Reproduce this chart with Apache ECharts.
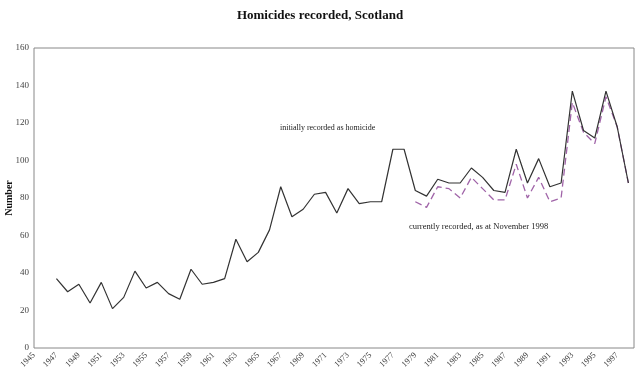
<!DOCTYPE html>
<html><head><meta charset="utf-8">
<script src="https://cdn.jsdelivr.net/npm/echarts@6/dist/echarts.min.js"></script>
<style>html,body{margin:0;padding:0;background:#fff}#c{width:640px;height:389px}</style>
</head><body><div id="c"></div>
<script>
const years = [1947,1948,1949,1950,1951,1952,1953,1954,1955,1956,1957,1958,1959,1960,1961,1962,1963,1964,1965,1966,1967,1968,1969,1970,1971,1972,1973,1974,1975,1976,1977,1978,1979,1980,1981,1982,1983,1984,1985,1986,1987,1988,1989,1990,1991,1992,1993,1994,1995,1996,1997,1998];
const initiallyRecorded = [37,30,34,24,35,21,27,41,32,35,29,26,42,34,35,37,58,46,51,63,86,70,74,82,83,72,85,77,78,78,106,106,84,81,90,88,88,96,91,84,83,106,88,101,86,88,137,116,112,137,118,88];
const currentYears = [1979,1980,1981,1982,1983,1984,1985,1986,1987,1988,1989,1990,1991,1992,1993,1994,1995,1996,1997,1998];
const currentlyRecorded = [78,75,86,85,80,91,85,79,79,98,80,91,78,80,131,115,109,134,118,88];
const yTicks = [0,20,40,60,80,100,120,140,160];

const chart = echarts.init(document.getElementById('c'), null, {renderer:'canvas'});
const serif = 'Liberation Serif';
chart.setOption({
  animation:false,
  backgroundColor:'#fff',
  title:{text:'Homicides recorded, Scotland', left:'center', top:4,
    textStyle:{fontFamily:serif, fontWeight:'bold', fontSize:13, color:'#111'}},
  grid:{left:34, right:6, top:48, bottom:41, show:true, borderColor:'#888', borderWidth:1, backgroundColor:'transparent',
    containLabel:false, outerBoundsMode:'none'},
  xAxis:{type:'value', min:1945, max:1998.5, interval:1,
    axisLine:{show:false}, axisTick:{show:false}, splitLine:{show:false},
    axisLabel:{rotate:45, fontFamily:serif, fontSize:8.5, color:'#444', margin:6,
      showMaxLabel:false,
      formatter:function(v){return (Math.round(v)===v && v%2===1)?String(v):'';}}},
  yAxis:{type:'value', min:yTicks[0], max:yTicks[yTicks.length-1], interval:20,
    name:'Number', nameLocation:'middle', nameGap:20, nameRotate:90, nameMoveOverlap:false,
    nameTextStyle:{fontFamily:serif, fontWeight:'bold', fontSize:10, color:'#111'},
    axisLine:{show:false}, axisTick:{show:false}, splitLine:{show:false},
    axisLabel:{fontFamily:serif, fontSize:9, color:'#444', margin:5}},
  series:[
    {type:'line', name:'initially recorded as homicide', data:years.map((y,i)=>[y,initiallyRecorded[i]]),
      symbol:'none', lineStyle:{color:'#333', width:1.2}, z:3},
    {type:'line', name:'currently recorded, as at November 1998', data:currentYears.map((y,i)=>[y,currentlyRecorded[i]]),
      symbol:'none', lineStyle:{color:'#a064a8', width:1.3, type:[7,4]}, z:2}
  ],
  graphic:[
    {type:'text', left:280, top:124, style:{text:'initially recorded as homicide', font:'8px "Liberation Serif"', fill:'#222'}},
    {type:'text', left:409, top:222, style:{text:'currently recorded, as at November 1998', font:'8.5px "Liberation Serif"', fill:'#222'}}
  ]
});
</script></body></html>
